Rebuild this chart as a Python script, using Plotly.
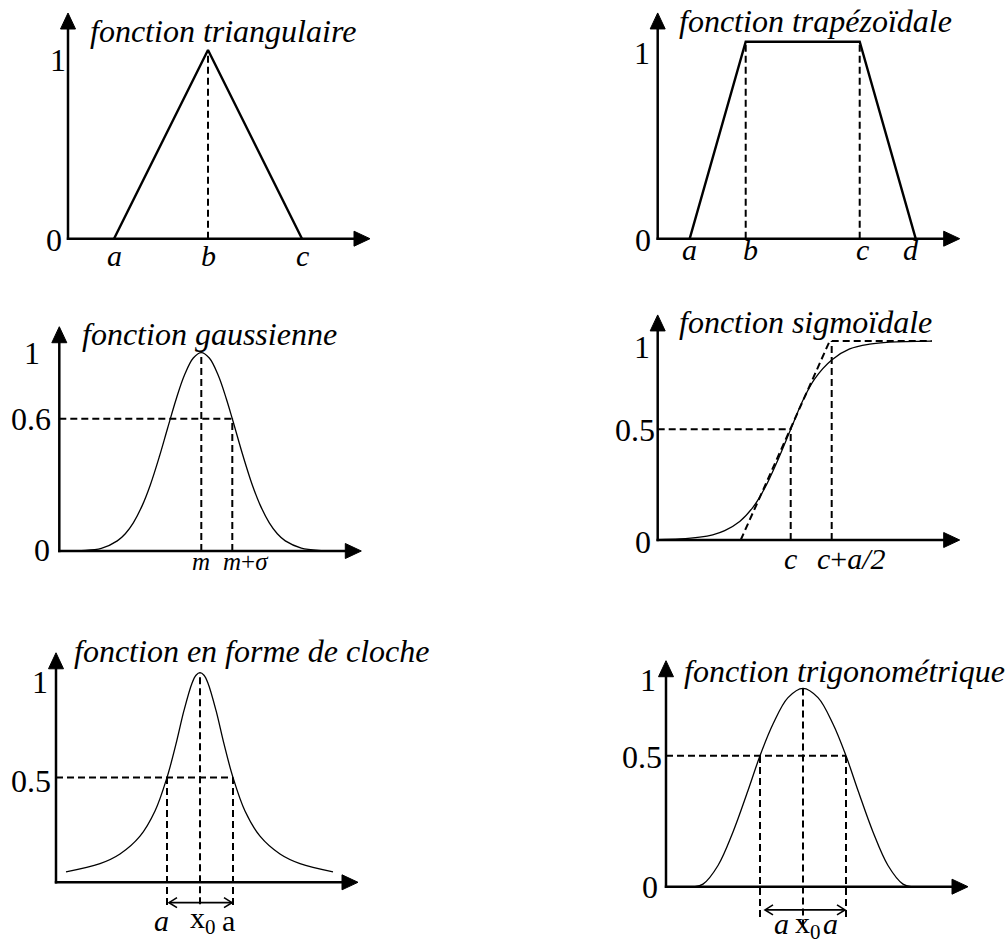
import plotly.graph_objects as go

W, H = 1006, 939
SERIF = "Liberation Serif"

# ------------------------------------------------------------------ data
# x : position along each abscissa (schematic units, 0 at the ordinate axis)
# y : membership degree

# 1. triangular
tri_x = [46, 140, 234]
tri_y = [0, 1, 0]
tri_names = ["a", "b", "c"]

# 2. trapezoidal
trap_x = [32, 88, 202, 258]
trap_y = [0, 1, 1, 0]
trap_names = ["a", "b", "c", "d"]

# 3. gaussian
gauss_x = [1, 22, 42, 58, 66, 74, 83, 91, 100, 108, 117, 125, 134, 142,
           150, 159, 167, 173, 184, 193, 201, 210, 218, 226, 242, 262, 274]
gauss_y = [0.0, 0.002, 0.013, 0.051, 0.087, 0.142, 0.23, 0.333, 0.475, 0.614, 0.768, 0.885, 0.973, 1.0,
           0.973, 0.885, 0.768, 0.667, 0.475, 0.333, 0.23, 0.142, 0.087, 0.051, 0.015, 0.002, 0.0]
gauss_m = 142
gauss_m_sigma = 173
gauss_cut = 0.667
gauss_ticks = [(1.0, "1"), (0.667, "0.6"), (0.0, "0")]

# 4. sigmoid
sig_x = [0, 22, 42, 55, 67, 82, 95, 107, 120, 133, 145, 157, 174, 192, 212, 232, 274]
sig_y = [0.002, 0.005, 0.014, 0.026, 0.047, 0.093, 0.163, 0.26, 0.40, 0.556,
         0.70, 0.81, 0.905, 0.96, 0.984, 0.994, 0.999]
sig_tan_x = [83, 172, 274]
sig_tan_y = [0, 1, 1]
sig_c = 133
sig_c_half = 174
sig_cut = 0.556

# 5. bell
bell_x = [10, 44, 64, 84, 99, 111, 120, 128, 136, 140, 144, 148, 152, 160, 168, 177, 189, 204, 224, 244, 277]
bell_y = [0.05, 0.089, 0.135, 0.22, 0.34, 0.5, 0.66, 0.82, 0.95, 0.988, 1.0, 0.988, 0.95, 0.82,
          0.66, 0.5, 0.34, 0.22, 0.135, 0.089, 0.05]
bell_x0 = 144
bell_a = [111, 177]
bell_cut = 0.5

# 6. trigonometric
trig_x = [29, 37, 52, 67, 82, 94, 107, 122, 137, 152, 167, 180, 192, 207, 222, 237, 245]
trig_y = [0, 0.013, 0.107, 0.276, 0.485, 0.66, 0.82, 0.953, 1, 0.953, 0.82, 0.66, 0.485, 0.276, 0.107, 0.013, 0]
trig_x0 = 137
trig_a = [94, 180]
trig_cut = 0.66

titles = {
    1: "fonction triangulaire",
    2: "fonction trapézoïdale",
    3: "fonction gaussienne",
    4: "fonction sigmoïdale",
    5: "fonction en forme de cloche",
    6: "fonction trigonométrique",
}

# ------------------------------------------------------------------ panel geometry (pixels)
P = {
    1: dict(ox=68.0, oy=238.7, uy=188.7, L=0, R=400, T=0, B=282, ytip=1.196),
    2: dict(ox=657.7, oy=238.7, uy=197.0, L=580, R=1006, T=0, B=282, ytip=1.146),
    3: dict(ox=59.3, oy=551.0, uy=198.3, L=0, R=400, T=295, B=600, ytip=1.131),
    4: dict(ox=657.7, oy=540.0, uy=199.0, L=580, R=1006, T=292, B=600, ytip=1.131),
    5: dict(ox=56.0, oy=882.3, uy=209.6, L=0, R=400, T=630, B=939, ytip=1.095),
    6: dict(ox=666.0, oy=886.7, uy=198.4, L=580, R=1006, T=640, B=939, ytip=1.139),
}
XTIP = 302
TICK_SIZE = 32

fig = go.Figure()


def ids(n):
    return ("x" if n == 1 else f"x{n}", "y" if n == 1 else f"y{n}")


def line(n, xs, ys, width=2.2, dash=None, shape="linear"):
    xa, ya = ids(n)
    fig.add_trace(go.Scatter(
        x=xs, y=ys, xaxis=xa, yaxis=ya, mode="lines",
        line=dict(color="black", width=width, dash=dash, shape=shape),
        hoverinfo="skip", showlegend=False, connectgaps=False))


def dashed(n, xs, ys):
    line(n, xs, ys, width=2.0, dash="7px,4px")


def poly(n, xs, ys):
    xa, ya = ids(n)
    fig.add_trace(go.Scatter(
        x=xs, y=ys, xaxis=xa, yaxis=ya, mode="lines", fill="toself",
        fillcolor="black", line=dict(color="black", width=1),
        hoverinfo="skip", showlegend=False))


def text(n, x, y, s, size=TICK_SIZE, xanchor="center"):
    xa, ya = ids(n)
    fig.add_annotation(x=x, y=y, xref=xa, yref=ya, text=s, showarrow=False,
                       xanchor=xanchor, yanchor="middle",
                       font=dict(family=SERIF, size=size, color="black"))


def double_arrow(n, x0, x1, y):
    # shaft with open chevron heads at both ends
    uy = P[n]["uy"]
    hl, hw = 8, 5 / uy
    xs = [x0, x1, None,
          x0 + hl, x0, x0 + hl, None,
          x1 - hl, x1, x1 - hl]
    ys = [y, y, None,
          y + hw, y, y - hw, None,
          y + hw, y, y - hw]
    line(n, xs, ys, width=1.6)


def axes(n):
    p = P[n]
    uy, yt = p["uy"], p["ytip"]
    hl, hw = 16, 7.5
    line(n, [-1.2, XTIP - 8], [0, 0], width=2.5)
    line(n, [0, 0], [-1.2 / uy, yt - 8 / uy], width=2.5)
    poly(n, [XTIP, XTIP - hl, XTIP - hl, XTIP], [0, hw / uy, -hw / uy, 0])
    poly(n, [0, hw, -hw, 0], [yt, yt - hl / uy, yt - hl / uy, yt])


# layout axes
layout_axes = {}
for n, p in P.items():
    xa, ya = ids(n)
    xk = "xaxis" if n == 1 else f"xaxis{n}"
    yk = "yaxis" if n == 1 else f"yaxis{n}"
    layout_axes[xk] = dict(domain=[p["L"] / W, p["R"] / W], range=[p["L"] - p["ox"], p["R"] - p["ox"]],
                           visible=False, fixedrange=True, anchor=ya)
    layout_axes[yk] = dict(domain=[1 - p["B"] / H, 1 - p["T"] / H],
                           range=[(p["oy"] - p["B"]) / p["uy"], (p["oy"] - p["T"]) / p["uy"]],
                           visible=False, fixedrange=True, anchor=xa)

# ---------------- panel 1 : triangular
axes(1)
dashed(1, [tri_x[1], tri_x[1]], [0, tri_y[1]])
line(1, tri_x, tri_y, width=2.4)
text(1, -10.5, 0.947, "1")
text(1, -14, -0.007, "0")
for xv, nm in zip(tri_x, tri_names):
    text(1, xv, -0.09, f"<i>{nm}</i>", size=30)
text(1, 20, 1.101, f"<i>{titles[1]}</i>", size=32, xanchor="left")

# ---------------- panel 2 : trapezoidal
axes(2)
dashed(2, [trap_x[1], trap_x[1]], [0, 1])
dashed(2, [trap_x[2], trap_x[2]], [0, 1])
line(2, trap_x, trap_y, width=2.4)
text(2, -16, 0.943, "1")
text(2, -14.7, -0.007, "0")
for xv, nm, off in zip(trap_x, trap_names, [0, 5, 3, -5]):
    text(2, xv + off, -0.057, f"<i>{nm}</i>", size=30)
text(2, 19, 1.107, f"<i>{titles[2]}</i>", size=32, xanchor="left")

# ---------------- panel 3 : gaussian
axes(3)
dashed(3, [0, gauss_m_sigma], [gauss_cut, gauss_cut])
dashed(3, [gauss_m, gauss_m], [0, 1])
dashed(3, [gauss_m_sigma, gauss_m_sigma], [0, gauss_cut])
line(3, gauss_x, gauss_y, width=1.3, shape="spline")
for (tv, tt), lx, ly in zip(gauss_ticks, [-27.3, -28.3, -17.3], [0.997, 0.666, 0.005]):
    text(3, lx, ly, tt)
text(3, gauss_m, -0.055, "<i>m</i>", size=25)
text(3, gauss_m_sigma - 11, -0.055, "<i>m</i>+<i>σ</i>", size=25, xanchor="left")
text(3, 20.7, 1.094, f"<i>{titles[3]}</i>", size=32, xanchor="left")

# ---------------- panel 4 : sigmoid
axes(4)
dashed(4, [0, sig_c], [sig_cut, sig_cut])
dashed(4, [sig_c, sig_c], [0, sig_cut])
dashed(4, [sig_c_half, sig_c_half], [0, 1])
dashed(4, sig_tan_x, sig_tan_y)
line(4, sig_x, sig_y, width=1.3, shape="spline")
text(4, -16, 0.971, "1")
text(4, -22.7, 0.553, "0.5")
text(4, -14.7, -0.009, "0")
text(4, sig_c, -0.094, "<i>c</i>", size=30)
text(4, sig_c_half - 17, -0.094, "<i>c</i>+<i>a/2</i>", size=30, xanchor="left")
text(4, 19, 1.094, f"<i>{titles[4]}</i>", size=32, xanchor="left")

# ---------------- panel 5 : bell
axes(5)
dashed(5, [0, bell_a[1]], [bell_cut, bell_cut])
dashed(5, [bell_a[0], bell_a[0]], [-0.108, bell_cut])
dashed(5, [bell_x0, bell_x0], [-0.105, 1])
dashed(5, [bell_a[1], bell_a[1]], [-0.108, bell_cut])
line(5, bell_x, bell_y, width=1.3, shape="spline")
double_arrow(5, bell_a[0] + 2, bell_a[1] - 1, -0.097)
text(5, -16, 0.956, "1")
text(5, -25, 0.483, "0.5")
text(5, bell_a[0] - 5.5, -0.18, "<i>a</i>", size=30)
text(5, bell_x0 + 3, -0.18, "x<sub>0</sub>", size=30)
text(5, bell_a[1] - 4.5, -0.18, "a", size=30)
text(5, 15.7, 1.105, f"<i>{titles[5]}</i>", size=32, xanchor="left")

# ---------------- panel 6 : trigonometric
axes(6)
dashed(6, [0, trig_a[1]], [trig_cut, trig_cut])
dashed(6, [trig_a[0], trig_a[0]], [-0.153, trig_cut])
dashed(6, [trig_x0, trig_x0], [-0.2, 1])
dashed(6, [trig_a[1], trig_a[1]], [-0.153, trig_cut])
line(6, trig_x, trig_y, width=1.3, shape="spline")
double_arrow(6, trig_a[0] + 5, trig_a[1] - 1, -0.117)
text(6, -17.7, 1.042, "1")
text(6, -24.3, 0.655, "0.5")
text(6, -16, 0.0, "0")
text(6, trig_a[0] + 21.7, -0.183, "<i>a</i>", size=30)
text(6, trig_x0 + 4.5, -0.195, "x<sub>0</sub>", size=30)
text(6, trig_a[1] - 15.5, -0.183, "<i>a</i>", size=30)
text(6, 15.7, 1.089, f"<i>{titles[6]}</i>", size=32, xanchor="left")

fig.update_layout(
    width=W, height=H,
    margin=dict(l=0, r=0, t=0, b=0),
    paper_bgcolor="white", plot_bgcolor="white",
    showlegend=False,
    **layout_axes,
)

fig.write_html(
    "out.html",
    config={"displayModeBar": False},
    post_script="document.body.style.margin='0';document.body.style.padding='0';"
                "document.body.style.overflow='hidden';",
)
